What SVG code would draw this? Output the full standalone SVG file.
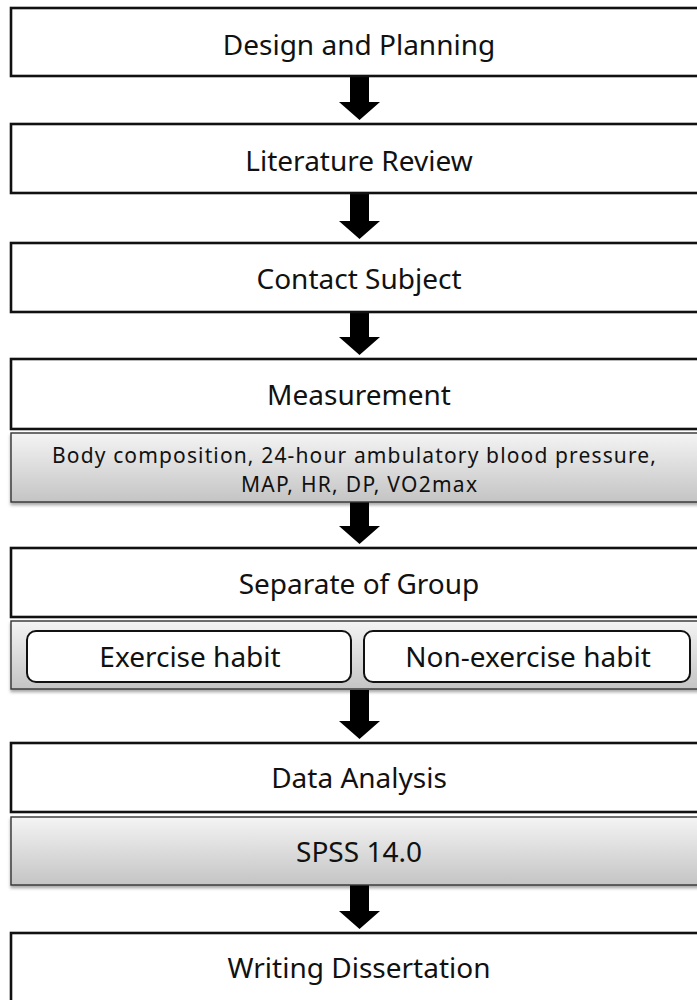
<svg xmlns="http://www.w3.org/2000/svg" width="697" height="1000" viewBox="0 0 697 1000">
<style>
.box{fill:#fff;stroke:#111;stroke-width:2.6}
.gbox{fill:url(#g);stroke:#333;stroke-width:1.4;filter:url(#sh)}
.inner{fill:#fff;stroke:#111;stroke-width:2}
.t{font-family:"Noto Sans","Open Sans",sans-serif;font-size:28px;fill:#111;text-anchor:middle;dominant-baseline:central}
.s{font-size:21px}
.arrow{fill:#000}
</style>
<defs>
<linearGradient id="g" x1="0" y1="0" x2="0" y2="1">
<stop offset="0" stop-color="#f4f4f4"/>
<stop offset="1" stop-color="#c4c4c4"/>
</linearGradient>
<filter id="sh" x="-5%" y="-20%" width="110%" height="150%">
<feDropShadow dx="0" dy="2.5" stdDeviation="1.5" flood-color="#000" flood-opacity="0.35"/>
</filter>
</defs>
<g id="connectors">
<polygon class="arrow" points="350,76 369,76 369,102 380,102 359.5,120 339,102 350,102"/>
<polygon class="arrow" points="350,193 369,193 369,221 380,221 359.5,239 339,221 350,221"/>
<polygon class="arrow" points="350,312 369,312 369,337 380,337 359.5,355 339,337 350,337"/>
<polygon class="arrow" points="350,502 369,502 369,526 380,526 359.5,544 339,526 350,526"/>
<polygon class="arrow" points="350,690 369,690 369,721 380,721 359.5,739 339,721 350,721"/>
<polygon class="arrow" points="350,885 369,885 369,911 380,911 359.5,929 339,911 350,911"/>
</g>
<g id="design">
<rect class="box" x="11" y="8" width="700" height="68"/>
<text class="t" x="359" y="44">Design and Planning</text>
</g>
<g id="literature">
<rect class="box" x="11" y="124" width="700" height="69"/>
<text class="t" x="359" y="160">Literature Review</text>
</g>
<g id="contact">
<rect class="box" x="11" y="243" width="700" height="69"/>
<text class="t" x="359" y="278">Contact Subject</text>
</g>
<g id="measurement">
<rect class="box" x="11" y="359" width="700" height="70"/>
<text class="t" x="359" y="394">Measurement</text>
</g>
<g id="measures">
<rect class="gbox" x="11" y="433" width="700" height="69"/>
<text class="t s" x="354" y="455" textLength="604" lengthAdjust="spacing">Body composition, 24-hour ambulatory blood pressure,</text>
<text class="t s" x="359" y="484" textLength="236" lengthAdjust="spacing">MAP, HR, DP, VO2max</text>
</g>
<g id="separate">
<rect class="box" x="11" y="548" width="700" height="69"/>
<text class="t" x="359" y="583">Separate of Group</text>
</g>
<g id="groups">
<rect class="gbox" x="11" y="621" width="700" height="68"/>
</g>
<g id="exercise">
<rect class="inner" x="27" y="631" width="324" height="51" rx="9"/>
<text class="t" x="190" y="656">Exercise habit</text>
</g>
<g id="nonexercise">
<rect class="inner" x="364" y="631" width="326" height="51" rx="9"/>
<text class="t" x="528" y="656">Non-exercise habit</text>
</g>
<g id="analysis">
<rect class="box" x="11" y="743" width="700" height="69"/>
<text class="t" x="359" y="777">Data Analysis</text>
</g>
<g id="spss">
<rect class="gbox" x="11" y="817" width="700" height="68"/>
<text class="t" x="359" y="851">SPSS 14.0</text>
</g>
<g id="writing">
<rect class="box" x="11" y="933" width="700" height="80"/>
<text class="t" x="359" y="967">Writing Dissertation</text>
</g>
</svg>
